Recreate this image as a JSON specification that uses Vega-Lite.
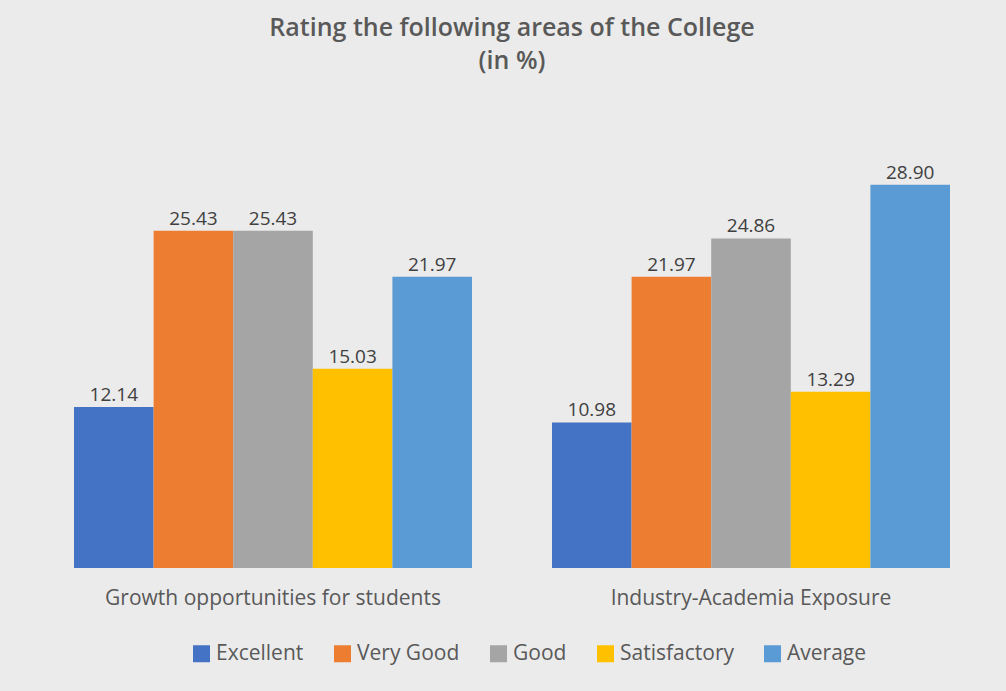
{
  "$schema": "https://vega.github.io/schema/vega-lite/v6.json",
  "autosize": {"type": "none"},
  "width": 956,
  "height": 464,
  "padding": {"left": 34, "top": 104, "right": 16, "bottom": 123},
  "background": "#ebebeb",
  "config": {
    "view": {"stroke": null},
    "font": "Open Sans"
  },
  "title": {
    "text": ["Rating the following areas of the College", "(in %)"],
    "font": "Open Sans",
    "fontSize": 25,
    "fontWeight": 600,
    "color": "#595959",
    "lineHeight": 33,
    "anchor": "middle",
    "offset": 30
  },
  "data": {
    "values": [
      {"area": "Growth opportunities for students", "rating": "Excellent", "value": 12.14},
      {"area": "Growth opportunities for students", "rating": "Very Good", "value": 25.43},
      {"area": "Growth opportunities for students", "rating": "Good", "value": 25.43},
      {"area": "Growth opportunities for students", "rating": "Satisfactory", "value": 15.03},
      {"area": "Growth opportunities for students", "rating": "Average", "value": 21.97},
      {"area": "Industry-Academia Exposure", "rating": "Excellent", "value": 10.98},
      {"area": "Industry-Academia Exposure", "rating": "Very Good", "value": 21.97},
      {"area": "Industry-Academia Exposure", "rating": "Good", "value": 24.86},
      {"area": "Industry-Academia Exposure", "rating": "Satisfactory", "value": 13.29},
      {"area": "Industry-Academia Exposure", "rating": "Average", "value": 28.90}
    ]
  },
  "encoding": {
    "x": {
      "field": "area",
      "type": "nominal",
      "sort": null,
      "title": null,
      "scale": {"paddingInner": 0.1674, "paddingOuter": 0.0837},
      "axis": {
        "labelAngle": 0,
        "domain": false,
        "ticks": false,
        "tickSize": 0,
        "labelPadding": 19,
        "labelLimit": 0,
        "labelFont": "Open Sans",
        "labelFontSize": 21,
        "labelColor": "#595959"
      }
    },
    "xOffset": {
      "field": "rating",
      "type": "nominal",
      "sort": ["Excellent", "Very Good", "Good", "Satisfactory", "Average"],
      "scale": {"paddingInner": 0, "paddingOuter": 0}
    },
    "y": {
      "field": "value",
      "type": "quantitative",
      "scale": {"domain": [0, 35], "nice": false},
      "axis": null
    }
  },
  "layer": [
    {
      "mark": {"type": "bar"},
      "encoding": {
        "color": {
          "field": "rating",
          "type": "nominal",
          "scale": {
            "domain": ["Excellent", "Very Good", "Good", "Satisfactory", "Average"],
            "range": ["#4472c4", "#ed7d31", "#a5a5a5", "#ffc000", "#5b9bd5"]
          },
          "legend": {
            "title": null,
            "orient": "none",
            "direction": "horizontal",
            "legendX": 157,
            "legendY": 539,
            "symbolType": "square",
            "symbolSize": 289,
            "symbolStrokeWidth": 0,
            "labelFont": "Open Sans",
            "labelFontSize": 21,
            "labelColor": "#595959",
            "labelOffset": 4,
            "columnPadding": 28,
            "padding": 0,
            "offset": 0
          }
        }
      }
    },
    {
      "mark": {"type": "text", "baseline": "alphabetic", "dy": -6, "font": "Open Sans", "fontSize": 19, "color": "#404040"},
      "encoding": {
        "text": {"field": "value", "type": "quantitative", "format": ".2f"}
      }
    }
  ]
}
